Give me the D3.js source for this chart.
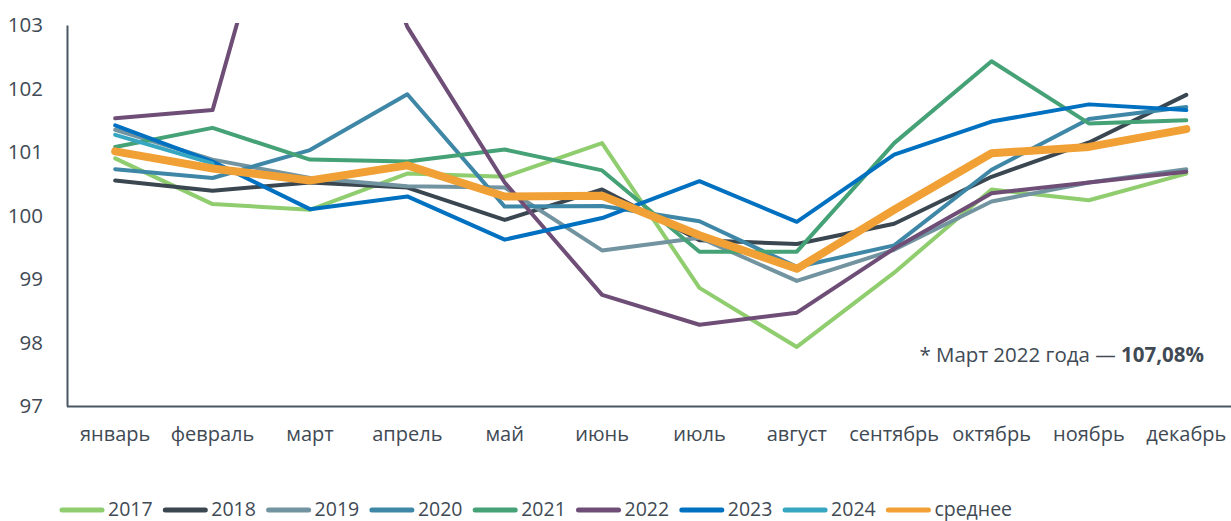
<!DOCTYPE html>
<html>
<head>
<meta charset="utf-8">
<script src="https://cdn.jsdelivr.net/npm/d3@7"></script>
<style>
  html, body { margin: 0; padding: 0; background: #fff; }
  svg { display: block; }
  text { font-family: "Open Sans", "Noto Sans", sans-serif; fill: #3f4a54; }
</style>
</head>
<body>
<svg id="chart" width="1231" height="521"></svg>
<script>
const months = ["январь","февраль","март","апрель","май","июнь","июль","август","сентябрь","октябрь","ноябрь","декабрь"];
const yTicks = [97, 98, 99, 100, 101, 102, 103];

const s2017 = [100.90, 100.18, 100.09, 100.66, 100.61, 101.14, 98.86, 97.93, 99.10, 100.41, 100.24, 100.66];
const s2018 = [100.55, 100.39, 100.52, 100.44, 99.93, 100.41, 99.61, 99.55, 99.87, 100.61, 101.15, 101.90];
const s2019 = [101.35, 100.88, 100.59, 100.46, 100.44, 99.45, 99.65, 98.97, 99.46, 100.22, 100.52, 100.73];
const s2020 = [100.73, 100.59, 101.03, 101.91, 100.14, 100.15, 99.91, 99.19, 99.53, 100.72, 101.52, 101.71];
const s2021 = [101.08, 101.38, 100.88, 100.85, 101.04, 100.71, 99.43, 99.43, 101.14, 102.43, 101.45, 101.50];
const s2022 = [101.53, 101.66, 107.08, 102.97, 100.52, 98.75, 98.28, 98.47, 99.48, 100.35, 100.52, 100.69];
const s2023 = [101.42, 100.85, 100.10, 100.30, 99.62, 99.96, 100.54, 99.90, 100.96, 101.48, 101.75, 101.66];
const s2024 = [101.27, 100.82, null, null, null, null, null, null, null, null, null, null];
const sAvg  = [101.01, 100.74, 100.55, 100.79, 100.30, 100.31, 99.69, 99.16, 100.09, 100.98, 101.08, 101.36];

const seriesNames = ["2017","2018","2019","2020","2021","2022","2023","2024","среднее"];
const seriesValues = [s2017, s2018, s2019, s2020, s2021, s2022, s2023, s2024, sAvg];
const seriesColors = ["#8fcd6e","#3a4750","#7293a0","#3f87a6","#45a176","#6e4e76","#0070c0","#36a6c1","#f0a035"];
const seriesWidths = [4, 4, 4, 4, 4, 4, 4, 4, 8];

const svg = d3.select("#chart");
const x = d3.scaleBand().domain(months).range([66.5, 1235]);
const y = d3.scaleLinear().domain([97, 103]).range([406, 25]);
const cx = m => x(m) + x.bandwidth() / 2;

svg.append("defs").append("clipPath").attr("id", "plot")
  .append("rect").attr("x", 67).attr("y", 23).attr("width", 1170).attr("height", 390);

// axes
const gy = svg.append("g").attr("transform", "translate(67,0)")
  .call(d3.axisLeft(y).tickValues(yTicks).tickSize(0).tickPadding(24).tickFormat(d3.format("d")));
gy.select(".domain").attr("stroke", "#4b5863").attr("stroke-width", 2);
gy.selectAll("text").style("font-size", "20.5px").style("fill", "#3f4a54").style("font-family", "\"Open Sans\", sans-serif");

const gx = svg.append("g").attr("transform", "translate(0,406)")
  .call(d3.axisBottom(x).tickSize(0).tickPadding(21));
gx.select(".domain").attr("stroke", "#4b5863").attr("stroke-width", 2);
gx.selectAll("text").style("font-size", "20px").style("fill", "#3f4a54").style("font-family", "\"Open Sans\", sans-serif");

// lines
const line = d3.line()
  .defined(d => d.v != null)
  .x(d => cx(d.m))
  .y(d => y(d.v));

const lines = svg.append("g").attr("clip-path", "url(#plot)");
seriesValues.forEach((vals, i) => {
  lines.append("path")
    .datum(vals.map((v, j) => ({ m: months[j], v })))
    .attr("fill", "none")
    .attr("stroke", seriesColors[i])
    .attr("stroke-width", seriesWidths[i])
    .attr("stroke-linejoin", "round")
    .attr("stroke-linecap", "round")
    .attr("d", line);
});

// annotation
const ann = svg.append("text").attr("x", 1204).attr("y", 362)
  .attr("text-anchor", "end").style("font-size", "20.5px");
ann.append("tspan").text("* Март 2022 года — ");
ann.append("tspan").attr("font-weight", "bold").text("107,08%");

// legend
const leg = svg.append("g").attr("transform", "translate(0,509)");
seriesNames.forEach((n, i) => {
  const x0 = 60 + i * 103.3;
  const g = leg.append("g").attr("transform", `translate(${x0},0)`);
  g.append("line").attr("x1", 2).attr("x2", 42).attr("y1", 1).attr("y2", 1)
    .attr("stroke", seriesColors[i]).attr("stroke-width", 5).attr("stroke-linecap", "round");
  g.append("text").attr("x", 48).attr("y", 0).attr("dy", "0.35em")
    .style("font-size", "19.5px").text(n);
});
</script>
</body>
</html>
